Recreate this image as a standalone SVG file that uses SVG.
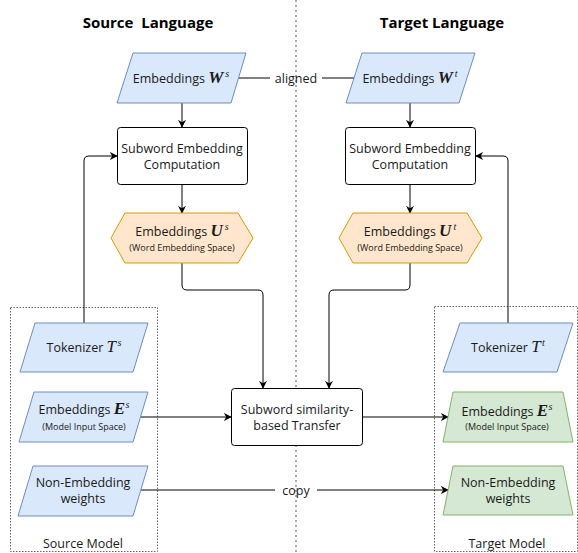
<svg xmlns="http://www.w3.org/2000/svg" width="578" height="553" viewBox="0 0 578 553">
<defs>
<marker id="arr" viewBox="0 0 10 10" refX="9" refY="5" markerWidth="8" markerHeight="8" markerUnits="userSpaceOnUse" orient="auto">
<path d="M0,0 L10,5 L0,10 L3,5 Z" fill="#000"/>
</marker>
</defs>
<style>
text{font-family:"Open Sans","DejaVu Sans",sans-serif;fill:#1a1a1a;text-anchor:middle}
.t{font-size:12.5px}
.s{font-size:9px}
.h{font-size:15px;font-weight:bold;fill:#000}
.m{font-family:"Liberation Serif","DejaVu Serif",serif;font-weight:bold;font-style:italic;font-size:17px}
.mi{font-family:"Liberation Serif","DejaVu Serif",serif;font-weight:normal;font-style:italic;font-size:17px}
.sup{font-family:"Liberation Serif","DejaVu Serif",serif;font-style:italic;font-size:10px}
.blue{fill:#dae8fc;stroke:#6c8ebf;stroke-width:1}
.green{fill:#d5e8d4;stroke:#82b366;stroke-width:1}
.orange{fill:#ffe6cc;stroke:#d79b00;stroke-width:1}
.box{fill:#fff;stroke:#000;stroke-width:1}
.grp{fill:none;stroke:#666;stroke-width:1;stroke-dasharray:1.5 1.5}
.c{fill:none;stroke:#000;stroke-width:1}
</style>
<line x1="296" y1="0" x2="296" y2="553" stroke="#555" stroke-width="1" stroke-dasharray="2 3"/>
<text class="h" x="148" y="28" xml:space="preserve">Source  Language</text>
<text class="h" x="442" y="28">Target Language</text>
<g id="source-model-group"><rect class="grp" x="10.5" y="307.5" width="147" height="244"/><text class="t" x="83" y="548">Source Model</text></g>
<g id="target-model-group"><rect class="grp" x="434.5" y="306.5" width="143" height="245"/><text class="t" x="507" y="548">Target Model</text></g>
<g id="connectors">
<line class="c" x1="239" y1="78" x2="270" y2="78"/>
<line class="c" x1="322" y1="78" x2="354" y2="78"/>
<text class="t" x="296" y="82.5">aligned</text>
<line class="c" x1="182" y1="103" x2="182" y2="127" marker-end="url(#arr)"/>
<line class="c" x1="410" y1="103" x2="410" y2="127" marker-end="url(#arr)"/>
<line class="c" x1="182" y1="184" x2="182" y2="213" marker-end="url(#arr)"/>
<line class="c" x1="410" y1="184" x2="410" y2="213" marker-end="url(#arr)"/>
<path class="c" d="M84,323 V161 Q84,156 89,156 H117" marker-end="url(#arr)"/>
<path class="c" d="M508,323 V161 Q508,156 503,156 H476" marker-end="url(#arr)"/>
<path class="c" d="M182,263 V285 Q182,290 187,290 H258 Q263,290 263,295 V388" marker-end="url(#arr)"/>
<path class="c" d="M410,263 V285 Q410,290 405,290 H334 Q329,290 329,295 V388" marker-end="url(#arr)"/>
<line class="c" x1="141" y1="417" x2="231" y2="417" marker-end="url(#arr)"/>
<line class="c" x1="362" y1="417" x2="448" y2="417" marker-end="url(#arr)"/>
<line class="c" x1="141" y1="490" x2="275" y2="490"/>
<line class="c" x1="317" y1="490" x2="448" y2="490" marker-end="url(#arr)"/>
<text class="t" x="296" y="495">copy</text>
</g>
<g id="ws"><polygon class="blue" points="133,53 246,53 231,103 117,103"/>
<text class="t" x="181" y="83">Embeddings <tspan class="m">W</tspan><tspan class="sup" dx="2" dy="-6">s</tspan></text></g>
<g id="wt"><polygon class="blue" points="362,53 475,53 459,103 346,103"/>
<text class="t" x="410" y="83">Embeddings <tspan class="m">W</tspan><tspan class="sup" dx="2" dy="-6">t</tspan></text></g>
<g id="sec-src"><rect class="box" x="117.5" y="127.5" width="130" height="57" rx="3"/>
<text class="t" x="182" y="153">Subword Embedding</text><text class="t" x="182" y="169">Computation</text></g>
<g id="sec-tgt"><rect class="box" x="345.5" y="127.5" width="130" height="57" rx="3"/>
<text class="t" x="410" y="153">Subword Embedding</text><text class="t" x="410" y="169">Computation</text></g>
<g id="us"><polygon class="orange" points="111,238 125,213 238,213 253,238 238,263 125,263"/>
<text class="t" x="182" y="236">Embeddings <tspan class="m">U</tspan><tspan class="sup" dx="2" dy="-6">s</tspan></text>
<text class="s" x="182" y="251">(Word Embedding Space)</text></g>
<g id="ut"><polygon class="orange" points="339,238 353,213 467,213 482,238 467,263 353,263"/>
<text class="t" x="410" y="236">Embeddings <tspan class="m">U</tspan><tspan class="sup" dx="2" dy="-6">t</tspan></text>
<text class="s" x="410" y="251">(Word Embedding Space)</text></g>
<g id="ts"><polygon class="blue" points="35,323 148,323 133,372 20,372"/>
<text class="t" x="84" y="352">Tokenizer <tspan class="mi">T</tspan><tspan class="sup" dx="1.5" dy="-6">s</tspan></text></g>
<g id="tt"><polygon class="blue" points="460,323 573,323 557,372 443,372"/>
<text class="t" x="508" y="352">Tokenizer <tspan class="mi">T</tspan><tspan class="sup" dx="1.5" dy="-6">t</tspan></text></g>
<g id="es"><polygon class="blue" points="34,392 148,392 133,442 19,442"/>
<text class="t" x="84" y="414">Embeddings <tspan class="m">E</tspan><tspan class="sup" dx="0.5" dy="-6">s</tspan></text>
<text class="s" x="84" y="430">(Model Input Space)</text></g>
<g id="nes"><polygon class="blue" points="33,466 148,466 133,516 18,516"/>
<text class="t" x="83" y="487">Non-Embedding</text><text class="t" x="83" y="503">weights</text></g>
<g id="transfer"><rect class="box" x="231.5" y="388.5" width="131" height="57" rx="3"/>
<text class="t" x="297" y="414">Subword similarity-</text><text class="t" x="297" y="430">based Transfer</text></g>
<g id="et"><polygon class="green" points="453,392 563,392 573,442 443,442"/>
<text class="t" x="507" y="416">Embeddings <tspan class="m">E</tspan><tspan class="sup" dx="0.5" dy="-6">s</tspan></text>
<text class="s" x="507" y="430">(Model Input Space)</text></g>
<g id="net"><polygon class="green" points="453,466 563,466 573,515 443,515"/>
<text class="t" x="508" y="487">Non-Embedding</text><text class="t" x="508" y="503">weights</text></g>
</svg>
